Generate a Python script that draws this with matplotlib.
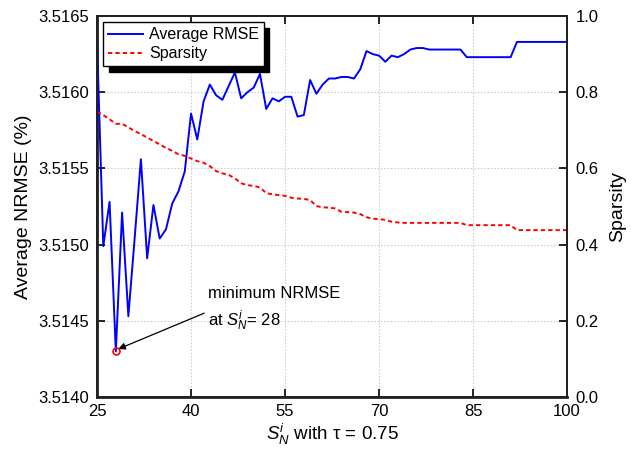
import numpy as np
import matplotlib
matplotlib.use("Agg")
import matplotlib.pyplot as plt

plt.rcParams['font.family'] = ['Liberation Sans', 'DejaVu Sans']
plt.rcParams['mathtext.fontset'] = 'custom'
plt.rcParams['mathtext.rm'] = 'Liberation Sans'
plt.rcParams['mathtext.it'] = 'Liberation Sans:italic'
plt.rcParams['mathtext.sf'] = 'Liberation Sans'

# ---- data ----
sn = list(range(25, 101))
avg_nrmse = [
    3.51634, 3.51499, 3.51528, 3.51430, 3.51521, 3.51453, 3.51504, 3.51556,
    3.51491, 3.51526, 3.51504, 3.51510, 3.51527, 3.51535, 3.51548, 3.51586,
    3.51569, 3.51594, 3.51605, 3.51598, 3.51595, 3.51604, 3.51613, 3.51596,
    3.51600, 3.51603, 3.51612, 3.51589, 3.51596, 3.51594, 3.51597, 3.51597,
    3.51584, 3.51585, 3.51608, 3.51599, 3.51605, 3.51609, 3.51609, 3.51610,
    3.51610, 3.51609, 3.51615, 3.51627, 3.51625, 3.51624, 3.51620, 3.51624,
    3.51623, 3.51625, 3.51628, 3.51629, 3.51629, 3.51628, 3.51628, 3.51628,
    3.51628, 3.51628, 3.51628, 3.51623, 3.51623, 3.51623, 3.51623, 3.51623,
    3.51623, 3.51623, 3.51623, 3.51633, 3.51633, 3.51633, 3.51633, 3.51633,
    3.51633, 3.51633, 3.51633, 3.51633,
]
sparsity = [
    0.749, 0.740, 0.729, 0.717, 0.717, 0.708, 0.698, 0.690, 0.681, 0.672,
    0.663, 0.654, 0.646, 0.637, 0.633, 0.626, 0.619, 0.615, 0.606, 0.593,
    0.587, 0.583, 0.574, 0.561, 0.556, 0.554, 0.550, 0.535, 0.532, 0.530,
    0.528, 0.523, 0.521, 0.520, 0.517, 0.501, 0.498, 0.497, 0.495, 0.486,
    0.485, 0.484, 0.480, 0.472, 0.468, 0.467, 0.465, 0.460, 0.458, 0.457,
    0.457, 0.457, 0.457, 0.457, 0.457, 0.457, 0.457, 0.457, 0.457, 0.451,
    0.451, 0.451, 0.451, 0.451, 0.451, 0.451, 0.451, 0.438, 0.438, 0.438,
    0.438, 0.438, 0.438, 0.438, 0.438, 0.438,
]
x_ticks = [25, 40, 55, 70, 85, 100]
left_ticks = [3.5140, 3.5145, 3.5150, 3.5155, 3.5160, 3.5165]
right_ticks = [0.0, 0.2, 0.4, 0.6, 0.8, 1.0]

# ---- figure ----
fig = plt.figure(figsize=(6.35, 4.5), dpi=100)
ax = fig.add_axes([0.1528, 0.1178, 0.7402, 0.8466])
ax2 = ax.twinx()

l1, = ax.plot(sn, avg_nrmse, color='#0000ff', lw=1.4, label='Average RMSE', zorder=3)
l2, = ax2.plot(sn, sparsity, color='#ff0000', lw=1.4, ls=(0, (2.2, 1.6)), label='Sparsity')

imin = int(np.argmin(avg_nrmse))
ax.plot(sn[imin], avg_nrmse[imin], 'o', mfc='none', mec='#ff0000', ms=5, mew=1.2, zorder=4)

ax.set_xlim(25, 100)
ax.set_ylim(3.5140, 3.5165)
ax2.set_ylim(0, 1)
ax.set_xticks(x_ticks)
ax.set_yticks(left_ticks)
ax.set_yticklabels([f'{v:.4f}' for v in left_ticks])
ax2.set_yticks(right_ticks)
ax2.set_yticklabels([f'{v:.1f}' for v in right_ticks])

ax.grid(True, color='#cfcfcf', ls=(0, (1.5, 1.5)), lw=0.8)
ax.tick_params(axis='y', direction='in', length=6, width=1.2, labelsize=12, right=False, pad=6)
ax.tick_params(axis='x', direction='in', length=6, width=1.2, labelsize=12, top=True, pad=5)
ax2.tick_params(direction='in', length=6, width=1.2, labelsize=12, pad=6)

for a in (ax, ax2):
    for s in a.spines.values():
        s.set_linewidth(1.4)
        s.set_color('#222222')
ax.spines['left'].set_linewidth(2.0)
ax.spines['bottom'].set_linewidth(2.0)

ax.set_ylabel('Average NRMSE (%)', fontsize=14, labelpad=4)
ax2.set_ylabel('Sparsity', fontsize=14, labelpad=8)
ax.set_xlabel(r'$S_N^{i}$ with τ = 0.75', fontsize=13.5, labelpad=2)

leg = ax.legend(handles=[l1, l2], loc='upper left', fontsize=11.5, fancybox=False,
                framealpha=1, edgecolor='black', handlelength=2.2, handletextpad=0.35,
                borderaxespad=0.4, borderpad=0.3, labelspacing=0.25,
                shadow={'ox': 4, 'oy': -4, 'facecolor': 'black', 'edgecolor': 'black', 'alpha': 1})
leg.get_frame().set_linewidth(1.0)
leg.set_zorder(10)

ax.text(42.7, 3.51473, 'minimum NRMSE', fontsize=12, ha='left', va='top')
ax.text(42.7, 3.51458, r'at $S_N^{i}$= 28', fontsize=12, ha='left', va='top')
ax.annotate('', xy=(sn[imin] + 0.4, avg_nrmse[imin] + 0.000015),
            xytext=(42.1, 3.51455),
            arrowprops=dict(arrowstyle='-|>', color='black', lw=0.9,
                            mutation_scale=10, shrinkA=0, shrinkB=0))

fig.savefig('out.png', dpi=100)
